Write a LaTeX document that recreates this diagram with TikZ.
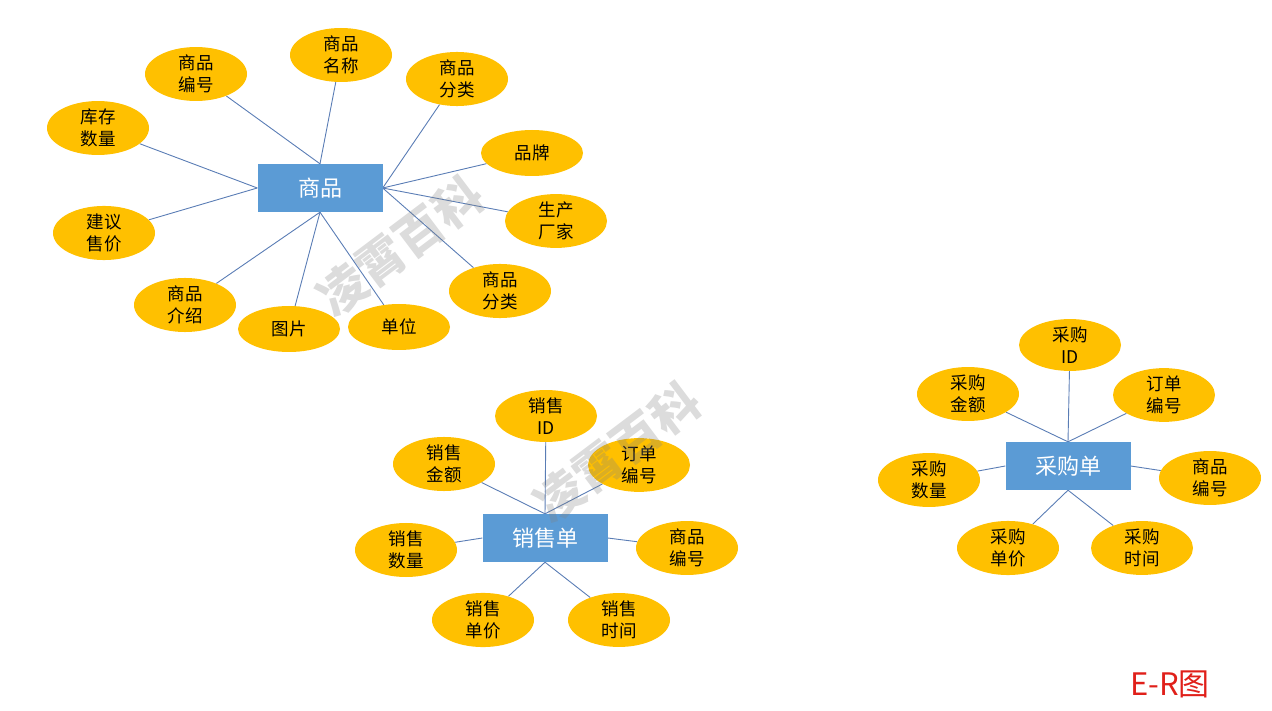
\documentclass[tikz,border=0pt]{standalone}
\usepackage{fontspec}
\setmainfont{Noto Sans CJK SC}
\newfontfamily\cjk{Noto Sans CJK SC}
\usetikzlibrary{shapes.geometric,backgrounds}
\definecolor{attrfill}{HTML}{FFC000}
\definecolor{entfill}{HTML}{5B9BD5}
\definecolor{linkcol}{HTML}{5A7DB5}
\definecolor{ercol}{HTML}{E0201A}
\tikzset{
  attr/.style={ellipse, fill=attrfill, minimum width=102pt, minimum height=46pt, inner sep=0pt,
    font=\cjk\fontsize{17.5}{22}\selectfont, align=center, text=black},
  ent/.style={rectangle, fill=entfill, minimum width=125pt, minimum height=48pt, inner sep=0pt,
    font=\cjk\fontsize{22}{24}\selectfont, text=white},
  link/.style={draw=linkcol, line width=0.9pt},
  wmark/.style={font=\cjk\bfseries\fontsize{48}{48}\selectfont, text=gray, opacity=0.28}
}
\begin{document}
\begin{tikzpicture}[x=1pt,y=-1pt]
\useasboundingbox (0,0) rectangle (1272,711);
% ---------- 商品 ----------
\node[ent] (sp) at (320,188) {商品};
\node[attr] (a1) at (196,74) {商品\\编号};
\node[attr] (a2) at (341,55) {商品\\名称};
\node[attr] (a3) at (457,79) {商品\\分类};
\node[attr] (a4) at (98,128) {库存\\数量};
\node[attr] (a5) at (532,153) {品牌};
\node[attr] (a6) at (556,221) {生产\\厂家};
\node[attr] (a7) at (104,233) {建议\\售价};
\node[attr] (a8) at (500,291) {商品\\分类};
\node[attr] (a9) at (185,305) {商品\\介绍};
\node[attr] (a10) at (289,329) {图片};
\node[attr] (a11) at (399,327) {单位};
% ---------- 销售单 ----------
\node[ent] (xs) at (545,538) {销售单};
\node[attr] (b1) at (546,416) {销售\\ID};
\node[attr] (b2) at (444,464) {销售\\金额};
\node[attr] (b3) at (639,465) {订单\\编号};
\node[attr] (b4) at (406,550) {销售\\数量};
\node[attr] (b5) at (687,548) {商品\\编号};
\node[attr] (b6) at (483,620) {销售\\单价};
\node[attr] (b7) at (619,620) {销售\\时间};
% ---------- 采购单 ----------
\node[ent] (cg) at (1068,466) {采购单};
\node[attr] (c1) at (1070,345) {采购\\ID};
\node[attr] (c2) at (968,394) {采购\\金额};
\node[attr] (c3) at (1164,395) {订单\\编号};
\node[attr] (c4) at (929,480) {采购\\数量};
\node[attr] (c5) at (1210,478) {商品\\编号};
\node[attr] (c6) at (1008,548) {采购\\单价};
\node[attr] (c7) at (1142,548) {采购\\时间};
% ---------- links ----------
\begin{scope}[on background layer]
\draw[link] (sp.north) -- (a1);
\draw[link] (sp.north) -- (a2);
\draw[link] (sp.east) -- (a3);
\draw[link] (sp.west) -- (a4);
\draw[link] (sp.east) -- (a5);
\draw[link] (sp.east) -- (a6);
\draw[link] (sp.west) -- (a7);
\draw[link] (sp.east) -- (a8);
\draw[link] (sp.south) -- (a9);
\draw[link] (sp.south) -- (a10);
\draw[link] (sp.south) -- (a11);
\draw[link] (xs.north) -- (b1);
\draw[link] (xs.north) -- (b2);
\draw[link] (xs.north) -- (b3);
\draw[link] (xs.west) -- (b4);
\draw[link] (xs.east) -- (b5);
\draw[link] (xs.south) -- (b6);
\draw[link] (xs.south) -- (b7);
\draw[link] (cg.north) -- (c1);
\draw[link] (cg.north) -- (c2);
\draw[link] (cg.north) -- (c3);
\draw[link] (cg.west) -- (c4);
\draw[link] (cg.east) -- (c5);
\draw[link] (cg.south) -- (c6);
\draw[link] (cg.south) -- (c7);
\end{scope}
% ---------- watermarks & title ----------
\node[wmark, rotate=37] (w1) at (400,246) {凌霄百科};
\node[wmark, rotate=37] (w2) at (617,452) {凌霄百科};
\node[font=\cjk\fontsize{31}{33}\selectfont, text=ercol] (er) at (1170,684) {E-R图};
\end{tikzpicture}
\end{document}
